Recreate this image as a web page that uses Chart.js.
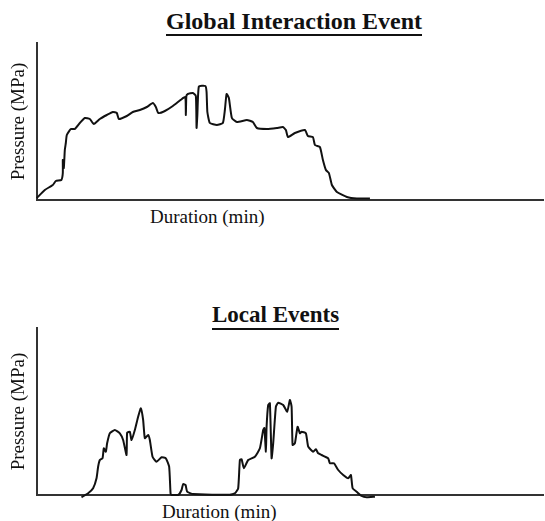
<!DOCTYPE html>
<html>
<head>
<meta charset="utf-8">
<script src="https://cdn.jsdelivr.net/npm/chart.js@4.4.1/dist/chart.umd.min.js"></script>
<style>
  body { margin: 0; background: #fff; width: 545px; height: 521px; position: relative; overflow: hidden; }
  canvas { position: absolute; left: 0; }
  .titulo { position: absolute; font: bold 24px "Liberation Serif", serif; line-height: 24px; color: #111;
            white-space: nowrap; border-bottom: 2px solid #111; }
  .ejeX { position: absolute; font: 19px "Liberation Serif", serif; line-height: 19px; color: #111; white-space: nowrap; }
</style>
</head>
<body>
<div class="titulo" id="tituloGlobal" style="left:166px; top:9px; padding-bottom:1px;">Global Interaction Event</div>
<div class="ejeX" style="left:150px; top:207px;">Duration (min)</div>
<canvas id="chartGlobal" width="545" height="260" style="top:0"></canvas>

<div class="titulo" id="tituloLocal" style="left:212px; top:303px; padding-bottom:2px; font-size:23px; line-height:23px;">Local Events</div>
<div class="ejeX" style="left:162px; top:502px;">Duration (min)</div>
<canvas id="chartLocal" width="545" height="261" style="top:260px"></canvas>

<script>
// Evento global: tiempo y presion (unidades arbitrarias)
const globalTime = [0, 8, 16, 19, 24.5, 26, 26, 27, 28, 29, 30, 34, 38, 43, 48, 53, 57, 63, 70, 76, 80, 82, 90, 96,
  103, 110, 116, 119, 121.5, 128, 136, 145, 148.5, 149, 149.5, 151, 156, 159, 159.7, 160.5, 162, 168.5, 169.7,
  170.5, 173, 180, 186, 188, 189.7, 192, 195, 200, 210, 216, 220, 230, 240, 246, 249, 251, 258, 268, 271, 276,
  278, 283, 286, 289, 292, 295, 300, 310, 320, 333];
const globalPressure = [2, 10, 15, 19, 20, 27, 40, 32, 50, 57, 65, 71, 71, 77, 82, 81, 76, 81, 85, 88, 87, 81, 84, 88,
  90, 93, 97, 93, 87, 89, 94, 101, 103, 85, 104, 106, 107, 104, 72, 85, 113.5, 114, 108,
  88, 77, 75, 77, 90, 106, 102, 82, 78, 80, 78, 72, 71, 72, 73, 70, 63, 67, 70, 64, 63,
  55, 53, 40, 30, 27, 15, 8, 3, 1.5, 1.5];

// Eventos locales
const localTime = [44.7, 51.3, 56.3, 59.7, 61.3, 63, 65.7, 67, 69, 70.3, 73, 78, 83, 86.3, 89.7, 90.3, 93, 94.7, 98,
  101.3, 104, 106.3, 108, 111.3, 113, 115.7, 119.7, 124.7, 129, 132.3, 133.7, 134.7, 141.3, 144.7, 146.3, 148.7,
  150.3, 156.3, 193, 198, 201.3, 203, 204.7, 207, 211.3, 218, 223, 226.3, 227.5, 229, 229.7, 231.3, 233, 234.7,
  236.3, 239, 241.3, 246.3, 250.3, 253, 254.7, 255.7, 258, 260.7, 263, 264.7, 269, 271.3, 276.3, 279, 281.3,
  284.7, 288, 291.3, 293, 297, 301.3, 306.3, 311.3, 314, 315.7, 319.7, 324.7, 329.7, 338];
const localPressure = [-2.3, 1.7, 6.7, 16.7, 28.3, 35, 36.7, 46.7, 43.3, 51.7, 61.7, 65, 61.7, 55, 40, 62.3, 63.3, 55, 65,
  78.3, 86.7, 75, 56.7, 60, 55, 38.3, 33.3, 37.7, 36.7, 28.3, 1.7, 0, 0, 5, 11, 10,
  3.3, 1, 0.3, 1.7, 6.7, 35, 35.7, 26.7, 35, 38.3, 46.7, 65, 67, 43.3, 68.3, 90, 91.7, 36.7,
  51.7, 88.3, 92.3, 90, 83.3, 95, 88.3, 50, 51.7, 68.3, 61.7, 63.3, 61.7, 48.3, 43.3, 45.7, 41.7,
  40, 38.3, 36.7, 31.7, 31.7, 25, 20, 16.7, 20, 6.7, 3.3, -1, -2.3, -1.7];

const xMax = 506;

function crearGrafico(id, tiempos, presiones, yMax, padding) {
  const puntos = tiempos.map((t, i) => ({ x: t, y: presiones[i] }));
  const ctx = document.getElementById(id).getContext("2d");
  return new Chart(ctx, {
    type: "line",
    data: {
      datasets: [{
        data: puntos,
        borderColor: "#111",
        borderWidth: 2,
        pointRadius: 0,
        tension: 0.15,
        fill: false,
        clip: false
      }]
    },
    options: {
      responsive: false,
      animation: false,
      layout: { padding: padding },
      plugins: { legend: { display: false }, tooltip: { enabled: false } },
      scales: {
        x: {
          type: "linear",
          min: 0,
          max: xMax,
          grid: { display: false, drawTicks: false },
          ticks: { display: false },
          border: { display: true, color: "#333", width: 2 }
        },
        y: {
          min: 0,
          max: yMax,
          grid: { display: false, drawTicks: false },
          ticks: { display: false },
          border: { display: true, color: "#333", width: 2 },
          title: {
            display: true,
            text: "Pressure (MPa)",
            color: "#111",
            font: { family: "'Liberation Serif', serif", size: 19 },
            padding: { top: 0, bottom: 6 }
          }
        }
      }
    }
  });
}

crearGrafico("chartGlobal", globalTime, globalPressure, 157, { top: 43, bottom: 60, left: 8, right: 2 });
crearGrafico("chartLocal", localTime, localPressure, 167, { top: 68, bottom: 26, left: 8, right: 2 });
</script>
</body>
</html>
